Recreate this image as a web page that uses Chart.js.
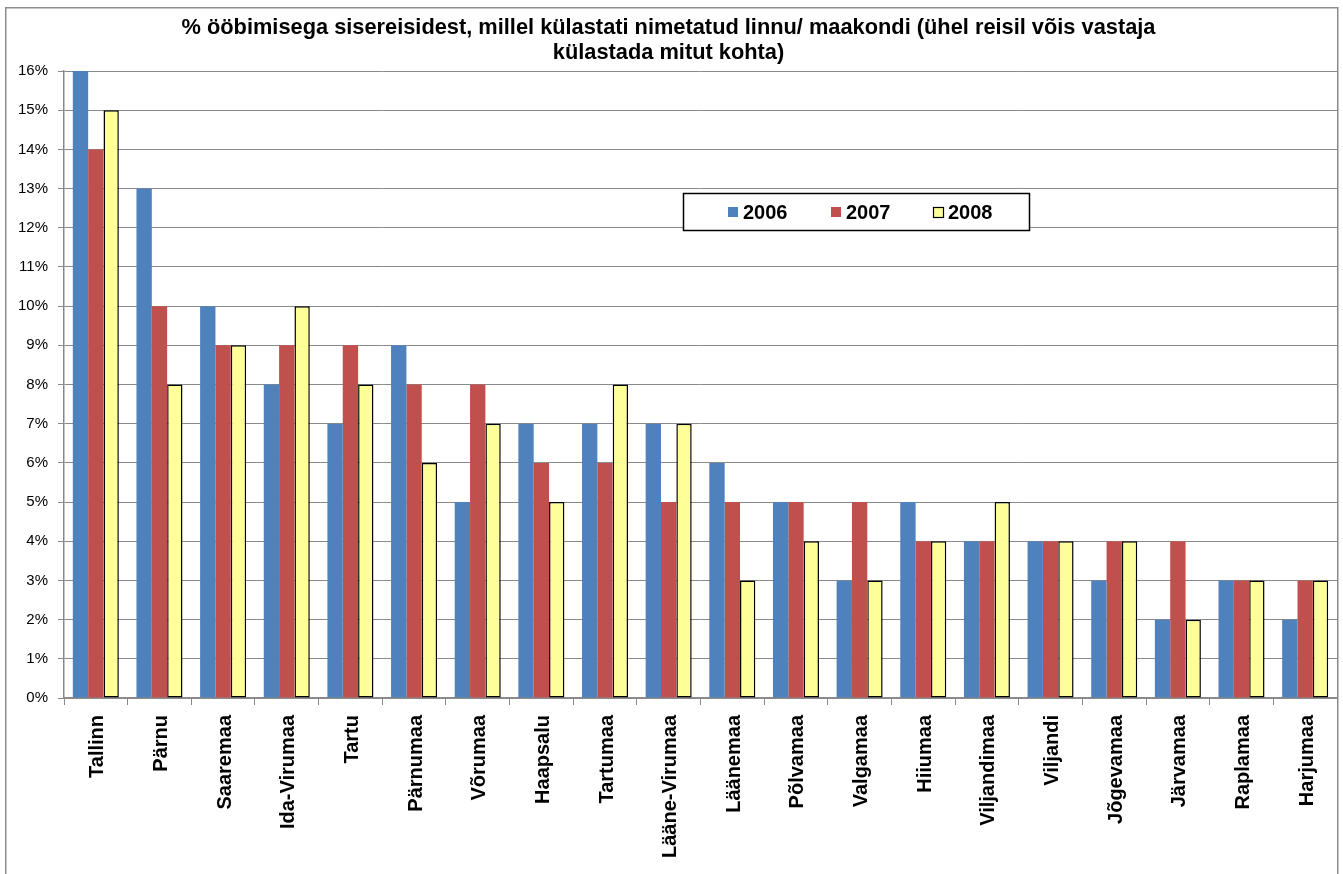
<!DOCTYPE html>
<html>
<head>
<meta charset="utf-8">
<script src="https://cdn.jsdelivr.net/npm/chart.js@4/dist/chart.umd.min.js"></script>
<style>
  html, body { margin: 0; padding: 0; background: #ffffff; }
  #wrap { position: relative; width: 1343px; height: 874px; }
</style>
</head>
<body>
<div id="wrap"><canvas id="c" width="1343" height="874"></canvas></div>
<script>
const titleLines = [
  "% ööbimisega sisereisidest, millel külastati nimetatud linnu/ maakondi (ühel reisil võis vastaja",
  "külastada mitut kohta)"
];
const categories = ["Tallinn","Pärnu","Saaremaa","Ida-Virumaa","Tartu","Pärnumaa","Võrumaa","Haapsalu","Tartumaa","Lääne-Virumaa","Läänemaa","Põlvamaa","Valgamaa","Hiiumaa","Viljandimaa","Viljandi","Jõgevamaa","Järvamaa","Raplamaa","Harjumaa"];
const seriesNames = ["2006","2007","2008"];
const values2006 = [16,13,10,8,7,9,5,7,7,7,6,5,3,5,4,4,3,2,3,2];
const values2007 = [14,10,9,9,9,8,8,6,6,5,5,5,5,4,4,4,4,4,3,3];
const values2008 = [15,8,9,10,8,6,7,5,8,7,3,4,3,4,5,4,4,2,3,3];
const yTicks = [0,1,2,3,4,5,6,7,8,9,10,11,12,13,14,15,16];

const gridColor = "#8a8a8a";

const framePlugin = {
  id: "frame",
  beforeDraw(chart) {
    const ctx = chart.ctx;
    ctx.save();
    ctx.fillStyle = "#ffffff";
    ctx.fillRect(0, 0, chart.width, chart.height);
    ctx.strokeStyle = "#8c8c8c";
    ctx.lineWidth = 1.5;
    ctx.strokeRect(5.75, 7.75, 1332, 900);
    ctx.restore();
  },
  afterDatasetsDraw(chart) {
    const a = chart.chartArea;
    const ctx = chart.ctx;
    ctx.save();
    ctx.strokeStyle = gridColor;
    ctx.lineWidth = 1;
    ctx.beginPath();
    ctx.moveTo(a.right + 0.5, a.top);
    ctx.lineTo(a.right + 0.5, a.bottom);
    ctx.stroke();
    ctx.restore();
  }
};

const legendBoxPlugin = {
  id: "legendBox",
  afterDraw(chart) {
    const ctx = chart.ctx;
    const x0 = 683, y0 = 193, w = 346, h = 37;
    ctx.save();
    ctx.fillStyle = "#ffffff";
    ctx.fillRect(x0, y0, w, h);
    ctx.strokeStyle = "#000000";
    ctx.lineWidth = 1.5;
    ctx.strokeRect(x0 + 0.5, y0 + 0.5, w, h);
    const itemX = [728, 831, 933];
    ctx.font = "bold 20px 'Liberation Sans', Arial, sans-serif";
    ctx.textBaseline = "middle";
    ctx.textAlign = "left";
    chart.data.datasets.forEach((ds, i) => {
      const sx = itemX[i], sy = 207;
      ctx.fillStyle = ds.backgroundColor;
      ctx.fillRect(sx, sy, 10, 10);
      if (ds.borderWidth) {
        ctx.strokeStyle = ds.borderColor;
        ctx.lineWidth = 1.2;
        ctx.strokeRect(sx + 0.5, sy + 0.5, 10, 10);
      }
      ctx.fillStyle = "#000000";
      ctx.fillText(ds.label, sx + 15, 213);
    });
    ctx.restore();
  }
};

new Chart(document.getElementById("c"), {
  type: "bar",
  data: {
    labels: categories,
    datasets: [
      { label: seriesNames[0], data: values2006, backgroundColor: "#4F81BD", borderWidth: 0 },
      { label: seriesNames[1], data: values2007, backgroundColor: "#C0504D", borderWidth: 0 },
      { label: seriesNames[2], data: values2008, backgroundColor: "#FFFF99", borderColor: "#000000", borderWidth: 1.5, borderSkipped: false }
    ]
  },
  options: {
    responsive: false,
    animation: false,
    devicePixelRatio: 1,
    layout: { padding: { top: 8, left: 0, right: 6, bottom: 0 } },
    datasets: { bar: { categoryPercentage: 0.723, barPercentage: 1.0 } },
    plugins: {
      legend: { display: false },
      tooltip: { enabled: false },
      title: {
        display: true,
        text: titleLines,
        color: "#000000",
        font: { family: "'Liberation Sans', Arial, sans-serif", size: 21.8, weight: "bold", lineHeight: 1.17 },
        padding: { top: 7, bottom: 5 }
      }
    },
    scales: {
      x: {
        afterFit(s) { s.height = 176; },
        grid: { display: true, drawOnChartArea: false, drawTicks: true, tickLength: 7, color: gridColor, offset: true },
        border: { display: true, color: gridColor, width: 1.5 },
        ticks: {
          autoSkip: false,
          minRotation: 90,
          maxRotation: 90,
          padding: 10,
          labelOffset: 2,
          color: "#000000",
          font: { family: "'Liberation Sans', Arial, sans-serif", size: 20, weight: "bold" }
        }
      },
      y: {
        min: 0,
        max: 16,
        afterFit(s) { s.width = 64; },
        afterBuildTicks(s) { s.ticks = yTicks.map(v => ({ value: v })); },
        grid: { display: true, drawTicks: true, tickLength: 6, color: gridColor, lineWidth: 1 },
        border: { display: true, color: gridColor, width: 1.5 },
        ticks: {
          stepSize: 1,
          padding: 10,
          color: "#000000",
          font: { family: "'Liberation Sans', Arial, sans-serif", size: 15 },
          callback: v => v + "%"
        }
      }
    }
  },
  plugins: [framePlugin, legendBoxPlugin]
});
</script>
</body>
</html>
